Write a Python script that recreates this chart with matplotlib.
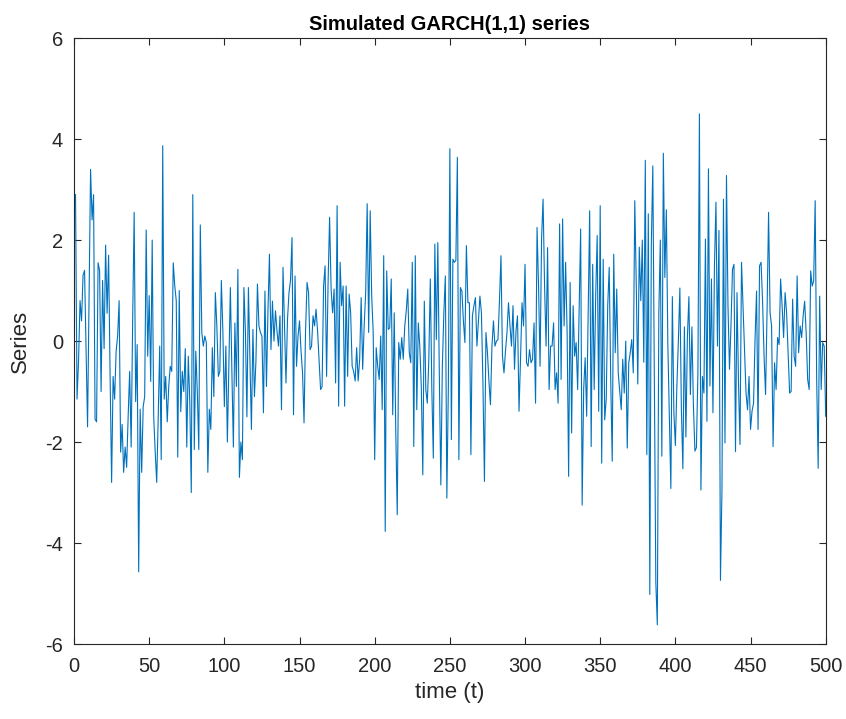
import numpy as np
import matplotlib
matplotlib.use('Agg')
import matplotlib.pyplot as plt

plt.rcParams.update({
    'font.family': ['Liberation Sans', 'DejaVu Sans'],
    'axes.unicode_minus': False,
})

# simulated GARCH(1,1) series (t = 1..500)
series_001_100 = [
    2.9, -1.15, -0.4, 0.8, 0.4, 1.3, 1.4, -0.2, -1.7, 0.8,
    3.4, 2.4, 2.9, -1.55, -1.6, 1.55, 1.4, -1.0, 1.2, -0.15,
    1.9, 0.55, 1.7, -0.7, -2.8, -0.7, -1.15, -0.2, 0.1, 0.8,
    -2.2, -1.65, -2.6, -2.1, -2.5, -1.5, -0.6, -2.1, 0.4, 2.55,
    -1.2, -0.07, -4.57, -1.35, -2.6, -1.3, -1.1, 2.2, -0.3, 0.9,
    -0.8, 2.0, -1.5, -2.2, -2.8, -1.5, -0.1, -2.35, 3.87, -1.15,
    -0.7, -1.6, -0.9, -0.5, -0.6, 1.55, 1.1, 0.8, -2.3, 1.0,
    -1.4, -0.6, -1.0, -0.15, -2.1, -0.3, -1.2, -3.0, 2.9, -2.15,
    -0.2, -1.0, -2.15, 2.3, 0.17, -0.1, 0.1, -0.03, -2.6, -1.35,
    -1.75, -0.13, -1.1, 0.96, 0.3, -0.7, -0.6, 1.2, 0.2, -1.3,
]
series_101_200 = [
    -0.1, -2.0, -0.5, 1.06, -0.6, -2.1, 0.36, -0.9, 1.42, -2.7,
    -2.0, -2.35, 1.06, 0.2, -1.5, 1.06, -0.3, -1.75, 0.23, -1.1,
    -0.4, 1.13, 0.3, 0.17, 0.1, -1.42, 0.99, -0.9, 0.6, 1.72,
    -0.17, 0.79, 0.0, 0.6, 0.2, -0.1, 0.5, -1.36, 1.46, 0.3,
    -0.83, 0.43, 0.96, 1.2, 2.05, -1.46, 1.29, -0.5, 0.1, 0.4,
    -0.2, -0.63, -1.62, 0.2, 1.16, 0.96, -0.17, -0.1, 0.5, 0.3,
    0.63, 0.2, -0.4, -0.96, -0.9, 1.09, 1.49, -0.7, 1.16, 2.45,
    1.03, 0.56, 1.03, -0.83, 2.68, -1.29, 1.56, 0.7, 1.09, -1.29,
    1.09, -0.7, 0.93, 0.56, -0.5, -0.6, -0.79, -0.13, -0.79, -0.36,
    0.86, -0.56, 0.3, 0.96, 2.72, 0.17, 2.58, 0.9, 0.17, -2.35,
]
series_201_300 = [
    -0.13, -0.5, -0.76, 0.1, -1.36, 1.69, -3.77, 1.39, 0.23, 0.26,
    1.23, -1.46, 0.56, -1.75, -3.44, -0.03, -0.36, 0.07, -0.36, 0.3,
    0.6, 1.03, -0.23, -0.43, 1.56, -2.09, 1.69, -1.36, 0.36, -0.1,
    -0.9, -2.65, 0.79, -0.96, -1.23, -0.36, 1.23, -0.96, -2.32, 1.92,
    0.03, 1.95, -0.7, -2.85, -0.5, 0.56, 1.29, -3.11, -0.9, 3.81,
    -1.95, 1.62, 1.56, 1.6, 3.64, -2.35, 1.06, 0.99, 0.4, -0.03,
    1.89, 0.76, 0.76, -2.25, 0.5, 0.7, 0.86, -0.1, 0.4, 0.89,
    0.56, -0.83, -2.78, 0.17, -0.23, -0.8, -1.26, -0.1, 0.4, -0.1,
    0.0, 0.03, 0.8, 1.69, -0.3, -0.63, -0.2, 0.17, 0.76, 0.3,
    -0.1, 0.7, -0.56, 0.2, 0.5, -1.39, -0.36, 0.76, 0.3, 1.52,
]
series_301_400 = [
    -0.43, -0.5, -0.17, -0.43, -0.36, 0.36, -1.23, 2.25, 1.09, -0.5,
    2.02, 2.81, 1.09, -0.1, 1.85, -0.96, -0.1, -0.1, 0.36, -0.96,
    -0.63, -1.23, 2.32, -0.76, 2.42, 0.3, 1.56, 0.17, -2.68, 1.16,
    -1.82, 0.7, -0.3, -0.03, -0.96, 0.6, 2.22, -3.25, -0.96, -0.33,
    -1.49, 0.5, 2.58, -2.09, 1.52, -0.96, 0.89, 2.09, -1.39, 2.68,
    -2.42, 1.62, -1.56, -1.16, 0.7, 1.46, -0.76, -2.38, 1.72, -0.23,
    1.03, -0.63, -1.0, -1.36, -0.36, -1.03, 0.0, -2.12, -0.43, -0.23,
    0.03, -0.63, 2.78, 1.1, -0.85, 1.86, 0.8, 2.0, -0.42, 3.58,
    -2.25, 2.52, -5.02, 1.89, 3.47, -0.7, -4.78, -5.62, 0.56, 2.0,
    -2.28, 3.72, 1.26, 2.6, -0.07, -1.5, -2.92, 0.88, -1.41, -2.07,
]
series_401_500 = [
    -0.9, 0.0, 1.05, -1.34, -2.53, 0.28, -1.9, 0.07, 0.88, -1.06,
    0.28, -1.27, -2.18, -2.11, -0.63, 4.5, -2.95, -0.7, -1.03, 2.02,
    -1.59, 3.41, -0.89, 1.23, -1.42, 1.49, 2.75, -0.1, 2.19, -4.74,
    -2.95, 2.81, -2.02, 3.28, 0.7, -0.56, 0.3, 1.42, 1.52, -2.19,
    0.96, -0.83, -2.05, 1.56, 0.7, -0.1, -1.03, -1.36, -0.7, -1.75,
    -1.39, -1.23, 0.03, 0.99, -1.75, 1.49, 1.56, 0.8, -0.3, -1.06,
    0.6, 2.55, 0.56, 0.3, -2.09, -0.43, -0.96, 0.07, -0.07, 1.23,
    0.7, 0.07, 0.96, 0.56, -0.23, -1.03, -1.0, 0.83, -0.3, -0.5,
    1.29, -0.23, 0.3, 0.07, 0.5, 0.79, 0.17, -0.76, -0.96, 1.39,
    1.09, 1.19, 2.78, -0.76, -2.52, 0.89, -0.96, -0.03, -0.1, -1.49,
]

y = np.array(series_001_100 + series_101_200 + series_201_300
             + series_301_400 + series_401_500)
t = np.arange(1, len(y) + 1)

fig = plt.figure(figsize=(8.46, 7.19), dpi=100)
ax = fig.add_axes([0.0875, 0.1043, 0.8885, 0.8427])

ax.plot(t, y, color='#0072BD', lw=0.8)

ax.set_xlim(0, 500)
ax.set_ylim(-6, 6)
ax.set_xticks(np.arange(0, 501, 50))
ax.set_yticks(np.arange(-6, 7, 2))

axis_col = '#262626'
for s in ax.spines.values():
    s.set_color(axis_col)
    s.set_linewidth(0.8)
ax.tick_params(direction='in', length=5, width=0.8, colors=axis_col,
               labelsize=14.5, top=True, right=True)
ax.tick_params(axis='x', pad=9)
ax.tick_params(axis='y', pad=8)

ax.set_xlabel('time (t)', fontsize=16, color=axis_col, labelpad=5)
ax.set_ylabel('Series', fontsize=16, color=axis_col, labelpad=10)
ax.set_title('Simulated GARCH(1,1) series', fontsize=14.5, fontweight='bold',
             color='black', pad=6)

fig.savefig('out.png', dpi=100, facecolor='white')
plt.close(fig)
